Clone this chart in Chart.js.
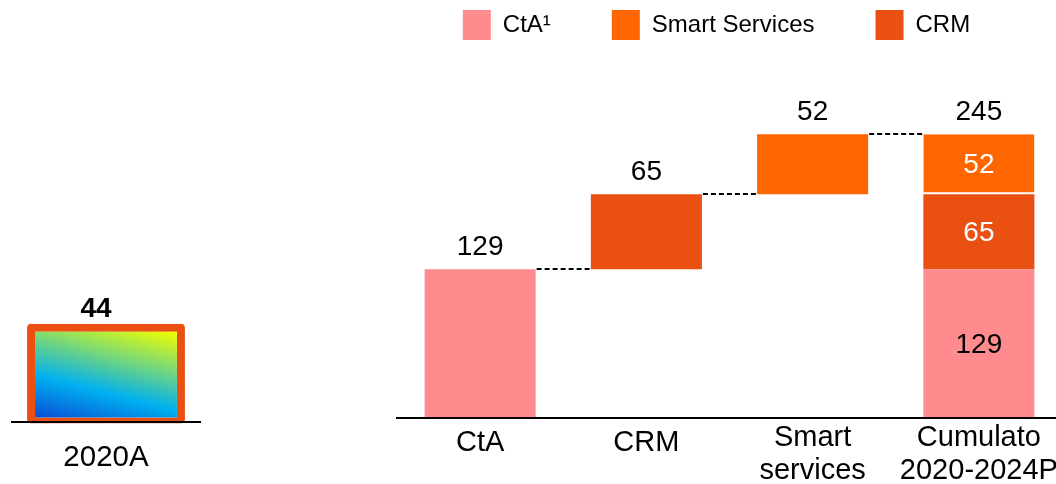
<!DOCTYPE html>
<html>
<head>
<meta charset="utf-8">
<script src="https://cdn.jsdelivr.net/npm/chart.js"></script>
<style>
  html, body { margin: 0; width: 1056px; height: 484px; overflow: hidden; background: #fff; }
  canvas { position: absolute; }
  #leftChart { left: 0; top: 0; }
  #rightChart { left: 371px; top: -51px; }
</style>
</head>
<body>
<canvas id="leftChart" width="220" height="484"></canvas>
<canvas id="rightChart" width="691" height="535"></canvas>
<script>
// left panel
var leftCategories = ['2020A'];
var leftValues = [44];

// right panel, waterfall
var categories = ['CtA', 'CRM', ['Smart', 'services'], ['Cumulato', '2020-2024P']];
var offsets = [0, 129, 194, 0];
var ctaValues = [129, null, null, 129];
var crmValues = [null, 65, null, 65];
var smartValues = [null, null, 52, 52];
var topLabels = [129, 65, 52, 245];
var legendOrder = ['CtA¹', 'Smart Services', 'CRM'];

var PINK = '#FF8B8E', ORANGE = '#FF6600', RED = '#E95012';

Chart.defaults.font.family = "'Liberation Sans', Arial, sans-serif";
Chart.defaults.color = '#000';
Chart.defaults.animation = false;
Chart.defaults.responsive = false;
Chart.defaults.devicePixelRatio = 1;

function drawText(ctx, text, x, y, font, color) {
  ctx.save();
  ctx.font = font;
  ctx.fillStyle = color;
  ctx.textAlign = 'center';
  ctx.textBaseline = 'middle';
  ctx.fillText(text, x, y + 1.5);
  ctx.restore();
}

var LABEL_FONT = "28px 'Liberation Sans', Arial, sans-serif";

var leftLabel = {
  id: 'leftLabel',
  afterDatasetsDraw: function (chart) {
    var bar = chart.getDatasetMeta(0).data[0];
    drawText(chart.ctx, leftValues[0], bar.x - 10, bar.y - 16, "bold 28px 'Liberation Sans', Arial, sans-serif", '#000');
  }
};

var waterfallLabels = {
  id: 'waterfallLabels',
  afterDatasetsDraw: function (chart) {
    var ctx = chart.ctx, y = chart.scales.y, x = chart.scales.x;
    var tops = categories.map(function (c, i) {
      return offsets[i] + (ctaValues[i] || 0) + (crmValues[i] || 0) + (smartValues[i] || 0);
    });

    // value above each column
    tops.forEach(function (top, i) {
      drawText(ctx, topLabels[i], x.getPixelForValue(i), y.getPixelForValue(top) - 23, LABEL_FONT, '#000');
    });

    // values inside the cumulative column
    var last = categories.length - 1;
    [1, 2, 3].forEach(function (d) {
      var bar = chart.getDatasetMeta(d).data[last];
      var color = d === 1 ? '#000' : '#fff';
      drawText(ctx, chart.data.datasets[d].data[last], bar.x, (bar.y + bar.base) / 2, LABEL_FONT, color);
    });

    // dashed connectors between columns
    ctx.save();
    ctx.strokeStyle = '#000';
    ctx.lineWidth = 2;
    ctx.setLineDash([5, 3]);
    for (var i = 0; i < last; i++) {
      var w = chart.getDatasetMeta(0).data[i].width;
      var py = Math.round(y.getPixelForValue(tops[i]));
      ctx.beginPath();
      ctx.moveTo(x.getPixelForValue(i) + w / 2 + 1, py);
      ctx.lineTo(x.getPixelForValue(i + 1) - w / 2 - 1, py);
      ctx.stroke();
    }
    ctx.restore();
  }
};

new Chart('leftChart', {
  type: 'bar',
  plugins: [leftLabel],
  data: {
    labels: leftCategories,
    datasets: [{
      data: leftValues,
      base: -0.7,
      clip: false,
      barPercentage: 0.84,
      categoryPercentage: 1,
      borderWidth: { top: 8, left: 8, right: 8, bottom: 6 },
      borderColor: RED,
      borderRadius: 4,
      borderSkipped: false,
      backgroundColor: function (c) {
        var a = c.chart.chartArea;
        if (!a) return '#00B0F0';
        var g = c.chart.ctx.createLinearGradient(a.left + 23, a.bottom - 5, a.left + 52, a.bottom - 118);
        g.addColorStop(0, '#0A4FD6');
        g.addColorStop(0.35, '#00B0F0');
        g.addColorStop(1, '#F0FF00');
        return g;
      }
    }]
  },
  options: {
    layout: { padding: { left: 12, right: 20, top: 288 } },
    plugins: { legend: { display: false }, tooltip: { enabled: false } },
    scales: {
      x: {
        afterFit: function (s) { s.height = 62; },
        grid: { display: false, drawTicks: false },
        border: { display: true, color: '#000', width: 2, z: 1 },
        ticks: { padding: 19, font: { size: 29.5, lineHeight: '33px' } }
      },
      y: { display: false, min: 0, max: 60 }
    }
  }
});

new Chart('rightChart', {
  type: 'bar',
  plugins: [waterfallLabels],
  data: {
    labels: categories,
    datasets: [
      { label: '', data: offsets, backgroundColor: 'rgba(0,0,0,0)' },
      { label: 'CtA¹', data: ctaValues, backgroundColor: PINK },
      { label: 'CRM', data: crmValues, backgroundColor: RED },
      {
        label: 'Smart Services',
        data: smartValues,
        backgroundColor: ORANGE,
        borderColor: '#fff',
        borderSkipped: false,
        borderWidth: function (c) { return c.dataIndex === 3 ? { bottom: 2 } : 0; }
      }
    ]
  },
  options: {
    barPercentage: 0.668,
    categoryPercentage: 1,
    plugins: {
      tooltip: { enabled: false },
      legend: {
        position: 'top',
        align: 'center',
        labels: {
          boxWidth: 28,
          boxHeight: 30,
          padding: 61,
          color: '#000',
          font: { size: 24 },
          filter: function (item) { return item.text !== ''; },
          sort: function (a, b) { return legendOrder.indexOf(a.text) - legendOrder.indexOf(b.text); }
        }
      }
    },
    scales: {
      x: {
        stacked: true,
        afterFit: function (s) { s.height = 66; },
        grid: { display: false, drawTicks: false },
        border: { display: true, color: '#000', width: 2, z: 1 },
        ticks: {
          padding: 3,
          autoSkip: false,
          maxRotation: 0,
          font: function (c) { return { size: 29, lineHeight: c.index < 2 ? '43px' : '33px' }; }
        }
      },
      y: {
        stacked: true,
        min: 0,
        max: 319,
        afterFit: function (s) { s.width = 26; },
        grid: { display: false, drawTicks: false },
        border: { display: false },
        ticks: { display: false }
      }
    }
  }
});
</script>
</body>
</html>
